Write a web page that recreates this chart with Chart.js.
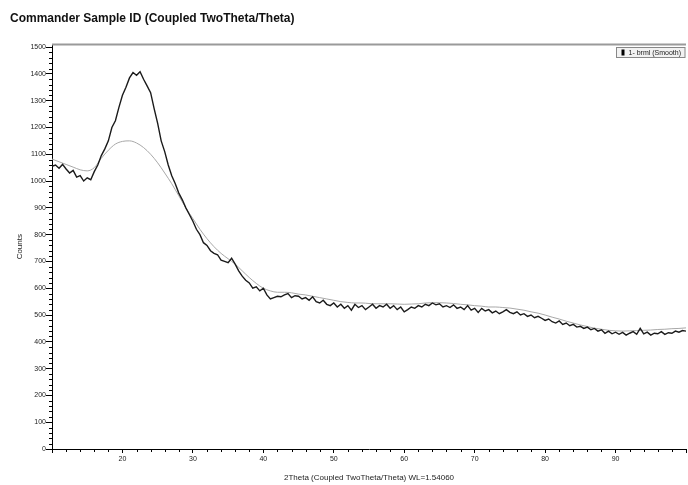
<!DOCTYPE html>
<html>
<head>
<meta charset="utf-8">
<script src="https://cdn.jsdelivr.net/npm/chart.js@4.4.1/dist/chart.umd.min.js"></script>
<style>
  html, body { margin: 0; padding: 0; background: #fff; }
  #wrap { width: 688px; height: 485px; }
</style>
</head>
<body>
<div id="wrap"><canvas id="xrd"></canvas></div>
<script>
// measured pattern, 2Theta step 0.5
const rawAngles = [
  10, 10.5, 11, 11.5, 12, 12.5, 13, 13.5, 14, 14.5,
  15, 15.5, 16, 16.5, 17, 17.5, 18, 18.5, 19, 19.5,
  20, 20.5, 21, 21.5, 22, 22.5, 23, 23.5, 24, 24.5,
  25, 25.5, 26, 26.5, 27, 27.5, 28, 28.5, 29, 29.5,
  30, 30.5, 31, 31.5, 32, 32.5, 33, 33.5, 34, 34.5,
  35, 35.5, 36, 36.5, 37, 37.5, 38, 38.5, 39, 39.5,
  40, 40.5, 41, 41.5, 42, 42.5, 43, 43.5, 44, 44.5,
  45, 45.5, 46, 46.5, 47, 47.5, 48, 48.5, 49, 49.5,
  50, 50.5, 51, 51.5, 52, 52.5, 53, 53.5, 54, 54.5,
  55, 55.5, 56, 56.5, 57, 57.5, 58, 58.5, 59, 59.5,
  60, 60.5, 61, 61.5, 62, 62.5, 63, 63.5, 64, 64.5,
  65, 65.5, 66, 66.5, 67, 67.5, 68, 68.5, 69, 69.5,
  70, 70.5, 71, 71.5, 72, 72.5, 73, 73.5, 74, 74.5,
  75, 75.5, 76, 76.5, 77, 77.5, 78, 78.5, 79, 79.5,
  80, 80.5, 81, 81.5, 82, 82.5, 83, 83.5, 84, 84.5,
  85, 85.5, 86, 86.5, 87, 87.5, 88, 88.5, 89, 89.5,
  90, 90.5, 91, 91.5, 92, 92.5, 93, 93.5, 94, 94.5,
  95, 95.5, 96, 96.5, 97, 97.5, 98, 98.5, 99, 99.5,
  100
];
const rawCounts = [
  1055, 1060, 1048, 1062, 1045, 1030, 1040, 1015, 1020, 1000,
  1012, 1005, 1035, 1060, 1095, 1120, 1150, 1200, 1225, 1275,
  1320, 1350, 1385, 1405, 1395, 1408, 1380, 1355, 1330, 1270,
  1215, 1150, 1110, 1060, 1020, 990, 955, 930, 900, 875,
  850, 820, 800, 770, 760, 740, 730, 725, 705, 700,
  695, 712, 690, 665, 645, 630, 620, 600, 605, 590,
  600, 575, 560, 565, 570, 568, 575, 580, 565, 572,
  570, 560, 565, 555, 568, 550, 545, 555, 540, 535,
  545, 530, 540, 525, 535, 518, 540, 528, 535, 520,
  530, 540, 525, 535, 530, 540, 525, 535, 520, 530,
  512, 520, 530, 525, 535, 530, 540, 535, 545, 538,
  542, 530, 535, 528, 538, 525, 530, 520, 535, 518,
  525, 510, 525, 515, 520, 508, 515, 505, 512, 520,
  510, 505, 512, 500, 505, 495, 500, 490, 495, 488,
  480, 485, 475, 470, 478, 465, 470, 460, 465, 455,
  458, 450, 455, 445, 450, 440, 445, 432, 440, 430,
  436, 428, 435, 425, 432, 438, 428, 450, 430, 436,
  425, 432, 430, 438, 428, 434, 432, 440, 436, 442,
  440
];

// smoothed curve, 2Theta step 1
const smoothAngles = [
  10, 11, 12, 13, 14, 15, 16, 17, 18, 19,
  20, 21, 22, 23, 24, 25, 26, 27, 28, 29,
  30, 31, 32, 33, 34, 35, 36, 37, 38, 39,
  40, 41, 42, 43, 44, 45, 46, 47, 48, 49,
  50, 51, 52, 53, 54, 55, 56, 57, 58, 59,
  60, 61, 62, 63, 64, 65, 66, 67, 68, 69,
  70, 71, 72, 73, 74, 75, 76, 77, 78, 79,
  80, 81, 82, 83, 84, 85, 86, 87, 88, 89,
  90, 91, 92, 93, 94, 95, 96, 97, 98, 99,
  100
];
const smoothCounts = [
  1082, 1072, 1062, 1052, 1042, 1038, 1050, 1085, 1115, 1138,
  1148, 1150, 1142, 1125, 1100, 1068, 1030, 990, 945, 900,
  860, 820, 785, 755, 730, 710, 690, 665, 640, 618,
  600, 590, 585, 585, 583, 578, 575, 570, 565, 560,
  555, 550, 547, 545, 545, 543, 542, 542, 542, 541,
  540, 541, 542, 545, 546, 546, 545, 543, 540, 538,
  535, 533, 530, 530, 528, 526, 522, 518, 512, 507,
  500, 492, 485, 477, 470, 463, 457, 451, 447, 443,
  441, 440, 441, 442, 443, 444, 446, 447, 449, 450,
  452
];

const yTicks = [0, 100, 200, 300, 400, 500, 600, 700, 800, 900, 1000, 1100, 1200, 1300, 1400, 1500];
const xTicks = [20, 30, 40, 50, 60, 70, 80, 90];

const FONT = 'Liberation Sans, Arial, sans-serif';
const tickFont = { family: FONT, size: 7 };

// minor ticks, top frame line and the small legend box
const extras = {
  id: 'extras',
  afterDraw(chart) {
    const { ctx, chartArea, scales } = chart;
    const x = scales.x, y = scales.y;
    ctx.save();
    ctx.strokeStyle = '#000';
    ctx.lineWidth = 1;
    ctx.beginPath();
    for (let v = 0; v <= 1500; v += 20) {
      if (v % 100 === 0) continue;
      const py = Math.round(y.getPixelForValue(v)) + 0.5;
      ctx.moveTo(chartArea.left - 3, py);
      ctx.lineTo(chartArea.left, py);
    }
    for (let v = 10; v <= 100; v += 2) {
      if (v % 10 === 0) continue;
      const px = Math.round(x.getPixelForValue(v)) + 0.5;
      ctx.moveTo(px, chartArea.bottom);
      ctx.lineTo(px, chartArea.bottom + 3);
    }
    ctx.stroke();

    ctx.strokeStyle = '#9a9a9a';
    ctx.lineWidth = 2;
    ctx.beginPath();
    ctx.moveTo(chartArea.left, chartArea.top);
    ctx.lineTo(chartArea.right, chartArea.top);
    ctx.stroke();

    // legend
    const ds = chart.data.datasets[0];
    ctx.font = '7px ' + FONT;
    const tw = ctx.measureText(ds.label).width;
    const bw = tw + 16, bh = 10;
    const bx = Math.round(chartArea.right - bw - 1) + 0.5;
    const by = Math.round(chartArea.top + 3) + 0.5;
    ctx.fillStyle = '#f2f2f2';
    ctx.fillRect(bx, by, bw, bh);
    ctx.strokeStyle = '#888';
    ctx.lineWidth = 1;
    ctx.strokeRect(bx, by, bw, bh);
    ctx.fillStyle = ds.backgroundColor;
    ctx.fillRect(bx + 5, by + 2, 3, bh - 4);
    ctx.fillStyle = '#222';
    ctx.textBaseline = 'middle';
    ctx.textAlign = 'left';
    ctx.fillText(ds.label, bx + 12, by + bh / 2 + 0.5);
    ctx.restore();
  }
};

new Chart(document.getElementById('xrd'), {
  type: 'line',
  data: {
    datasets: [
      {
        label: '1- brml (Smooth)',
        data: rawAngles.map((a, i) => ({ x: a, y: rawCounts[i] })),
        borderColor: '#1b1b1b',
        backgroundColor: '#000',
        borderWidth: 1.4,
        pointRadius: 0,
        tension: 0
      },
      {
        label: 'Smoothed',
        data: smoothAngles.map((a, i) => ({ x: a, y: smoothCounts[i] })),
        borderColor: '#a8a8a8',
        backgroundColor: '#a8a8a8',
        borderWidth: 1,
        pointRadius: 0,
        cubicInterpolationMode: 'monotone'
      }
    ]
  },
  options: {
    responsive: true,
    maintainAspectRatio: false,
    animation: false,
    layout: { padding: { left: 10, right: 0, top: 0, bottom: 0 } },
    plugins: {
      title: {
        display: true,
        text: 'Commander Sample ID (Coupled TwoTheta/Theta)',
        align: 'start',
        color: '#111',
        font: { family: FONT, size: 12, weight: 'bold' },
        padding: { top: 11, bottom: 19 }
      },
      legend: { display: false },
      tooltip: { enabled: false }
    },
    scales: {
      x: {
        type: 'linear',
        min: 10,
        max: 100,
        afterFit: s => { s.height = 36; },
        afterBuildTicks: s => { s.ticks = [10].concat(xTicks, [100]).map(v => ({ value: v })); },
        ticks: {
          autoSkip: false,
          maxRotation: 0,
          padding: 2,
          color: '#222',
          font: tickFont,
          callback: v => (xTicks.includes(v) ? String(v) : '')
        },
        grid: { drawOnChartArea: false, tickLength: 4, color: '#000' },
        border: { color: '#000', width: 1 },
        title: {
          display: true,
          text: '2Theta (Coupled TwoTheta/Theta) WL=1.54060',
          color: '#222',
          font: { family: FONT, size: 8 },
          padding: { top: 0, bottom: 2 }
        }
      },
      y: {
        min: 0,
        max: 1510,
        afterFit: s => { s.width = 42; },
        afterBuildTicks: s => { s.ticks = yTicks.map(v => ({ value: v })); },
        ticks: {
          autoSkip: false,
          padding: 0,
          color: '#222',
          font: tickFont,
          callback: v => String(v)
        },
        grid: { drawOnChartArea: false, tickLength: 6, color: '#000' },
        border: { color: '#000', width: 1 },
        title: {
          display: true,
          text: 'Counts',
          color: '#222',
          font: { family: FONT, size: 8 },
          padding: { top: 5, bottom: 0 }
        }
      }
    }
  },
  plugins: [extras]
});
</script>
</body>
</html>
